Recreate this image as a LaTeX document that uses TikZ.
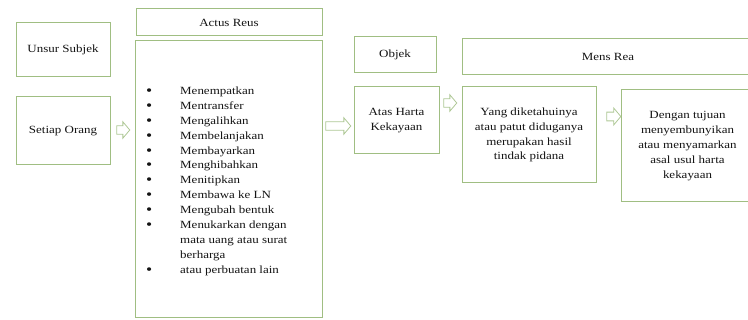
\documentclass[tikz,border=0pt]{standalone}
\usepackage{fontspec}
\setmainfont{Liberation Serif}[FakeStretch=1.18]
\usetikzlibrary{shapes.arrows}
\definecolor{boxgreen}{RGB}{160,190,130}
\definecolor{arrgreen}{RGB}{175,200,150}
\definecolor{txt}{RGB}{20,20,20}
\newcommand{\mybul}{\raisebox{-1pt}{\scalebox{1.35}{\textbullet}}}
\tikzset{
  box/.style={draw=boxgreen, line width=1pt, fill=white, inner sep=0pt, text=txt,
    align=center, font=\fontsize{11}{14.8}\selectfont},
  blockarrow/.style={single arrow, draw=arrgreen, line width=0.8pt, fill=white,
    inner xsep=0pt, inner ysep=3.8pt, single arrow tip angle=100,
    single arrow head extend=4pt, anchor=center},
  plain/.style={inner sep=0pt, text=txt, font=\fontsize{11}{14.9}\selectfont}
}
\begin{document}
\begin{tikzpicture}[x=1pt,y=1pt]
\useasboundingbox (0,0) rectangle (748,-320);
% left column
\node[box, minimum width=94, minimum height=54] (subj) at (63,-50) {Unsur Subjek};
\node[box, minimum width=94, minimum height=68] (orang) at (63,-131) {Setiap Orang};
% actus reus
\node[box, minimum width=186, minimum height=27] (actush) at (229,-22.5) {Actus Reus};
\node[box, minimum width=187, minimum height=277] (actusb) at (228.5,-179.5) {};
\node[plain, anchor=base west, align=left] (list) at (146,-94.5) {%
\begin{tabular}[t]{@{}p{34pt}@{}l@{}}
\mybul & Menempatkan\\
\mybul & Mentransfer\\
\mybul & Mengalihkan\\
\mybul & Membelanjakan\\
\mybul & Membayarkan\\
\mybul & Menghibahkan\\
\mybul & Menitipkan\\
\mybul & Membawa ke LN\\
\mybul & Mengubah bentuk\\
\mybul & Menukarkan dengan\\
 & mata uang atau surat\\
 & berharga\\
\mybul & atau perbuatan lain
\end{tabular}};
% objek
\node[box, minimum width=82, minimum height=36] (objek) at (395,-55) {Objek};
\node[box, minimum width=85, minimum height=67] (atas) at (396.5,-120.5) {Atas Harta\\Kekayaan};
% mens rea
\node[box, minimum width=292, minimum height=36] (mensh) at (608,-57) {Mens Rea};
\node[box, minimum width=134, minimum height=96] (yang) at (529,-135) {Yang diketahuinya\\atau patut diduganya\\merupakan hasil\\tindak pidana};
\node[box, minimum width=133, minimum height=112] (dengan) at (687.5,-146) {Dengan tujuan\\menyembunyikan\\atau menyamarkan\\asal usul harta\\kekayaan};
% block arrows
\node[blockarrow, minimum height=13pt, minimum width=16pt] (a1) at (121.5,-130) {};
\node[blockarrow, minimum height=25pt, minimum width=15pt] (a2) at (336.5,-126) {};
\node[blockarrow, minimum height=13pt, minimum width=16pt] (a3) at (448.5,-103) {};
\node[blockarrow, minimum height=14pt, minimum width=17pt] (a4) at (612,-116.5) {};
\end{tikzpicture}
\end{document}
